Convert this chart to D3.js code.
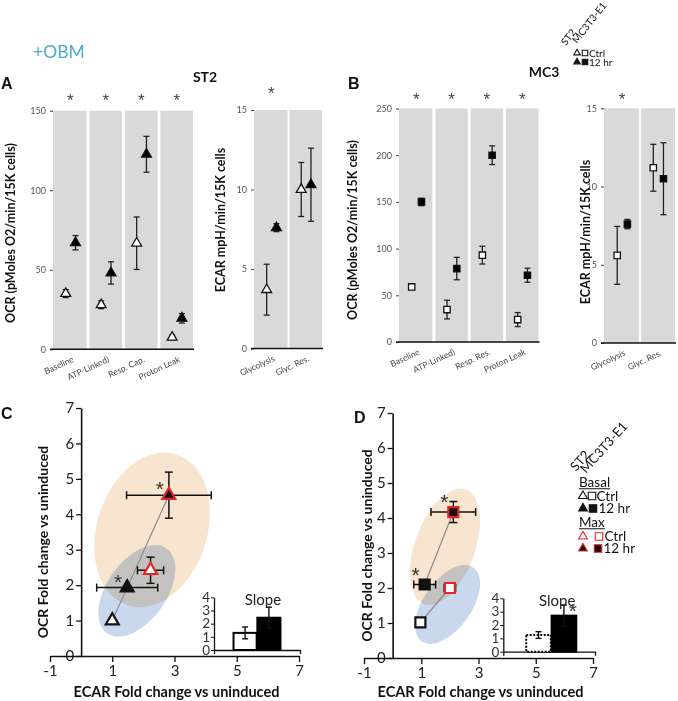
<!DOCTYPE html>
<html><head><meta charset="utf-8">
<script src="https://cdn.jsdelivr.net/npm/d3@7"></script>
<style>body{margin:0;background:#fff}svg{display:block}</style>
</head><body>
<script>
// ---------------- DATA ----------------
const groups = ["Ctrl", "12 hr"];
const ocrCatsST2 = ["Baseline", "ATP-Linked)", "Resp. Cap.", "Proton Leak"];
const ocrCatsMC3 = ["Baseline", "ATP-Linked)", "Resp. Res.", "Proton Leak"];
const ecarCats = ["Glycolysis", "Glyc. Res."];

const st2OcrCtrl = [35, 28, 66.7, 7.5];
const st2OcrCtrlErr = [2.5, 2.5, 16.5, 1.5];
const st2Ocr12h = [67, 48, 122.6, 19.5];
const st2Ocr12hErr = [4.5, 7, 11.3, 3];
const st2OcrSig = [true, true, true, true];

const st2EcarCtrl = [3.7, 10.0];
const st2EcarCtrlErr = [1.6, 1.7];
const st2Ecar12h = [7.6, 10.3];
const st2Ecar12hErr = [0.25, 2.3];
const st2EcarSig = [true, false];

const mc3OcrCtrl = [59, 34.7, 93, 24];
const mc3OcrCtrlErr = [2, 10, 9.5, 7.5];
const mc3Ocr12h = [150, 78.6, 200, 71.5];
const mc3Ocr12hErr = [4, 12, 10, 7.5];
const mc3OcrSig = [true, true, true, true];

const mc3EcarCtrl = [5.6, 11.2];
const mc3EcarCtrlErr = [1.85, 1.5];
const mc3Ecar12h = [7.6, 10.5];
const mc3Ecar12hErr = [0.3, 2.3];
const mc3EcarSig = [true, false];

const ocrTicksST2 = [0, 50, 100, 150];
const ocrTicksMC3 = [0, 50, 100, 150, 200, 250];
const ecarTicks = [0, 5, 10, 15];

// fold-change scatter (Basal Ctrl, Basal 12 hr, Max Ctrl, Max 12 hr)
const foldKinds = ["Basal Ctrl", "Basal 12 hr", "Max Ctrl", "Max 12 hr"];
const st2FoldX = [1, 1.48, 2.23, 2.82];
const st2FoldY = [1, 1.93, 2.42, 4.54];
const st2FoldXErr = [0, 0.98, 0.42, 1.36];
const st2FoldYErr = [0, 0, 0.37, 0.65];
const st2FoldSig = [false, true, false, true];

const mc3FoldX = [0.97, 1.12, 2.0, 2.12];
const mc3FoldY = [1.02, 2.1, 2.0, 4.17];
const mc3FoldXErr = [0, 0.38, 0.2, 0.78];
const mc3FoldYErr = [0, 0.1, 0.08, 0.3];
const mc3FoldSig = [false, true, false, true];

// shaded regions (data units: centre x, centre y, half-width in x units, half-height in y units, tilt deg)
const st2Regions = [
  {name: "Max", cx: 2.28, cy: 3.56, rx: 1.77, ry: 2.24, tilt: 18},
  {name: "Basal", cx: 1.79, cy: 1.84, rx: 0.96, ry: 1.46, tilt: 35}
];
const mc3Regions = [
  {name: "Max", cx: 1.83, cy: 3.18, rx: 1.05, ry: 1.74, tilt: 20},
  {name: "Basal", cx: 1.92, cy: 1.53, rx: 0.84, ry: 1.29, tilt: 35}
];

const foldTicksX = [-1, 1, 3, 5, 7];
const foldTicksY = [0, 1, 2, 3, 4, 5, 6, 7];

const st2Slope = [1.3, 2.45];
const st2SlopeErr = [0.45, 0.8];
const st2SlopeSig = [false, false];
const mc3Slope = [1.25, 2.7];
const mc3SlopeErr = [0.25, 0.8];
const mc3SlopeSig = [false, true];
const slopeTicks = [0, 1, 2, 3, 4];

// ---------------- DRAWING ----------------
const FONT = "Lato, 'Open Sans', sans-serif";
const ARIAL = "'Liberation Sans', Arial, sans-serif";
const RED = "#e0262b";
const BAND = "#d9d9d9";
const fmt = d3.format("d");

const svg = d3.select("body").append("svg").attr("width", 678).attr("height", 701);

function sym(type, size) {
  return d3.symbol().type(type === "tri" ? d3.symbolTriangle : d3.symbolSquare).size(size)();
}

function drawBandPanel(c) {
  const x = d3.scaleBand().domain(c.cats).range(c.xRange).paddingInner(c.padInner);
  const top = c.ticks[c.ticks.length - 1];
  const y = d3.scaleLinear().domain([0, top]).range(c.yRange);
  const sub = d3.scalePoint().domain(groups).range([x.bandwidth() * 0.36, x.bandwidth() * 0.66]);
  const g = svg.append("g");
  g.selectAll("rect.band").data(c.cats).join("rect")
    .attr("x", d => x(d)).attr("width", x.bandwidth())
    .attr("y", y(top)).attr("height", y(0) - y(top)).attr("fill", BAND);
  const ya = g.append("g").attr("transform", `translate(${c.xRange[0] - 1},0)`)
    .call(d3.axisLeft(y).tickValues(c.ticks).tickSize(3).tickPadding(4));
  ya.select(".domain").attr("stroke", "#bbb").attr("stroke-width", 0.6);
  ya.selectAll(".tick line").attr("stroke", "#444");
  ya.selectAll(".tick text").attr("font-family", FONT).attr("font-size", 9).attr("fill", "#555");
  g.append("line").attr("x1", c.xRange[0] - 4).attr("x2", c.xRange[1] + 1)
    .attr("y1", y(0)).attr("y2", y(0)).attr("stroke", "#111").attr("stroke-width", 1.6);
  g.selectAll("text.cat").data(c.cats).join("text")
    .attr("transform", d => `translate(${x(d) + x.bandwidth() / 2 + 4},${y(0) + 12}) rotate(-25)`)
    .attr("text-anchor", "end").attr("font-family", FONT).attr("font-size", 8.5).attr("fill", "#444")
    .text(d => d);
  g.selectAll("text.sig").data(c.cats.filter((d, i) => c.sig[i])).join("text")
    .attr("x", d => x(d) + x.bandwidth() / 2).attr("y", c.sigY + 10)
    .attr("text-anchor", "middle").attr("font-family", ARIAL).attr("font-size", 17).attr("fill", "#444")
    .text("*");
  const series = [
    {grp: "Ctrl", v: c.ctrl, e: c.ctrlErr, fill: "#fff"},
    {grp: "12 hr", v: c.trt, e: c.trtErr, fill: "#000"}
  ];
  series.forEach(s => {
    const pts = c.cats.map((cat, i) => ({cx: x(cat) + sub(s.grp), v: s.v[i], e: s.e[i]}));
    const eb = g.append("g").attr("stroke", "#222").attr("stroke-width", 1.3);
    pts.forEach(p => {
      eb.append("line").attr("x1", p.cx).attr("x2", p.cx).attr("y1", y(p.v - p.e)).attr("y2", y(p.v + p.e));
      [p.v - p.e, p.v + p.e].forEach(v => eb.append("line").attr("x1", p.cx - 3).attr("x2", p.cx + 3).attr("y1", y(v)).attr("y2", y(v)));
    });
    g.selectAll(null).data(pts).join("path")
      .attr("d", sym(c.shape, c.shape === "tri" ? 42 : 40))
      .attr("transform", p => `translate(${p.cx},${y(p.v)})`)
      .attr("fill", s.fill).attr("stroke", "#111").attr("stroke-width", 1.3);
  });
  g.append("text")
    .attr("transform", `translate(${c.titleX},${c.titleY}) rotate(-90)`)
    .attr("text-anchor", "middle").attr("dominant-baseline", "central")
    .attr("font-family", FONT).attr("font-weight", 700).attr("font-size", c.titleSize || 12.5).attr("fill", "#111")
    .text(c.title);
}

// Panel A
drawBandPanel({cats: ocrCatsST2, ctrl: st2OcrCtrl, ctrlErr: st2OcrCtrlErr, trt: st2Ocr12h, trtErr: st2Ocr12hErr,
  sig: st2OcrSig, ticks: ocrTicksST2, xRange: [54, 193], yRange: [349.3, 110.7], padInner: 0.08, shape: "tri",
  sigY: 96, title: "OCR (pMoles O2/min/15K cells)", titleX: 10, titleY: 233});
drawBandPanel({cats: ecarCats, ctrl: st2EcarCtrl, ctrlErr: st2EcarCtrlErr, trt: st2Ecar12h, trtErr: st2Ecar12hErr,
  sig: st2EcarSig, ticks: ecarTicks, xRange: [255, 322], yRange: [348.5, 110], padInner: 0.06, shape: "tri",
  sigY: 89, title: "ECAR mpH/min/15K cells", titleX: 220, titleY: 220});
// Panel B
drawBandPanel({cats: ocrCatsMC3, ctrl: mc3OcrCtrl, ctrlErr: mc3OcrCtrlErr, trt: mc3Ocr12h, trtErr: mc3Ocr12hErr,
  sig: mc3OcrSig, ticks: ocrTicksMC3, xRange: [400, 538.5], yRange: [342, 108.5], padInner: 0.08, shape: "sq",
  sigY: 95, title: "OCR (pMoles O2/min/15K cells)", titleX: 352, titleY: 230});
drawBandPanel({cats: ecarCats, ctrl: mc3EcarCtrl, ctrlErr: mc3EcarCtrlErr, trt: mc3Ecar12h, trtErr: mc3Ecar12hErr,
  sig: mc3EcarSig, ticks: ecarTicks, xRange: [605, 675], yRange: [343, 108.3], padInner: 0.06, shape: "sq",
  sigY: 95, title: "ECAR mpH/min/15K cells", titleX: 585, titleY: 232});

function drawScatter(c) {
  const x = d3.scaleLinear().domain([-1, 7]).range(c.xRange);
  const y = d3.scaleLinear().domain([0, 7]).range(c.yRange);
  const g = svg.append("g");
  const colours = {Max: "#f8e5cf", Basal: "#93b2dc"};
  c.regions.forEach(r => {
    const px = x(r.cx), py = y(r.cy);
    g.append("ellipse").attr("cx", px).attr("cy", py)
      .attr("rx", x(r.rx) - x(0)).attr("ry", y(0) - y(r.ry))
      .attr("transform", `rotate(${r.tilt},${px},${py})`)
      .attr("fill", colours[r.name])
      .attr("fill-opacity", r.name === "Basal" ? 0.5 : 1)
      .style("mix-blend-mode", r.name === "Basal" ? "multiply" : null);
  });
  const line = d3.line().x(d => x(d[0])).y(d => y(d[1]));
  c.links.forEach(lk => {
    const pts = lk.idx.map(i => [c.fx[i], c.fy[i]]);
    g.append("path").attr("d", line.curve(lk.curve ? d3.curveNatural : d3.curveLinear)(pts))
      .attr("fill", "none").attr("stroke", "#8a8a8a").attr("stroke-width", 1.2);
  });
  const ya = g.append("g").attr("transform", `translate(${x(0)},0)`)
    .call(d3.axisLeft(y).tickValues(foldTicksY).tickFormat(fmt).tickSize(5).tickPadding(2).tickSizeOuter(0));
  const xa = g.append("g").attr("transform", `translate(0,${y(0)})`)
    .call(d3.axisBottom(x).tickValues(foldTicksX).tickFormat(d => d < 0 ? "-" + Math.abs(d) : fmt(d)).tickSize(6).tickPadding(3).tickSizeOuter(0));
  [ya, xa].forEach(a => {
    a.select(".domain").attr("stroke", "#111").attr("stroke-width", 1.6);
    a.selectAll(".tick line").attr("stroke", "#111").attr("stroke-width", 1.3);
    a.selectAll(".tick text").attr("font-family", FONT).attr("font-size", 15).attr("fill", "#222");
  });
  g.append("text").attr("transform", `translate(${c.yTitleX},${(c.yRange[0] + c.yRange[1]) / 2 + 10}) rotate(-90)`)
    .attr("text-anchor", "middle").attr("dominant-baseline", "central")
    .attr("font-family", FONT).attr("font-weight", 700).attr("font-size", 14).attr("fill", "#111")
    .text("OCR Fold change vs uninduced");
  g.append("text").attr("x", (c.xRange[0] + c.xRange[1]) / 2 + 2).attr("y", 697)
    .attr("text-anchor", "middle")
    .attr("font-family", FONT).attr("font-weight", 700).attr("font-size", 14.5).attr("fill", "#111")
    .text("ECAR Fold change vs uninduced");
  const eb = g.append("g").attr("stroke", "#111").attr("stroke-width", 1.5);
  c.fx.forEach((fx, i) => {
    const px = x(fx), py = y(c.fy[i]);
    if (c.fxe[i] > 0) {
      eb.append("line").attr("x1", x(fx - c.fxe[i])).attr("x2", x(fx + c.fxe[i])).attr("y1", py).attr("y2", py);
      [fx - c.fxe[i], fx + c.fxe[i]].forEach(v => eb.append("line").attr("x1", x(v)).attr("x2", x(v)).attr("y1", py - 4).attr("y2", py + 4));
    }
    if (c.fye[i] > 0) {
      eb.append("line").attr("x1", px).attr("x2", px).attr("y1", y(c.fy[i] - c.fye[i])).attr("y2", y(c.fy[i] + c.fye[i]));
      [c.fy[i] - c.fye[i], c.fy[i] + c.fye[i]].forEach(v => eb.append("line").attr("x1", px - 4).attr("x2", px + 4).attr("y1", y(v)).attr("y2", y(v)));
    }
  });
  const styles = {
    "Basal Ctrl": {fill: "#fff", stroke: "#111"},
    "Basal 12 hr": {fill: "#111", stroke: "#111"},
    "Max Ctrl": {fill: "#fff", stroke: RED},
    "Max 12 hr": {fill: "#111", stroke: RED}
  };
  g.selectAll(null).data(foldKinds).join("path")
    .attr("d", sym(c.shape, c.shape === "tri" ? 72 : 100))
    .attr("transform", (k, i) => `translate(${x(c.fx[i])},${y(c.fy[i])})`)
    .attr("fill", k => styles[k].fill).attr("stroke", k => styles[k].stroke).attr("stroke-width", 2.2);
  g.selectAll(null).data(foldKinds.filter((k, i) => c.sig[i])).join("text")
    .attr("x", k => x(c.fx[foldKinds.indexOf(k)]) - 9)
    .attr("y", k => y(c.fy[foldKinds.indexOf(k)]) + c.sigDy)
    .attr("text-anchor", "middle").attr("font-family", ARIAL).attr("font-size", 21).attr("fill", "#333")
    .text("*");
  // inset slope chart
  const ix = d3.scaleBand().domain(groups).range(c.inset.xRange).paddingInner(0.03).paddingOuter(0.82).align(c.inset.align);
  const iy = d3.scaleLinear().domain([0, 4]).range(c.inset.yRange);
  const ig = g.append("g");
  const iya = ig.append("g").attr("transform", `translate(${c.inset.xRange[0]},0)`)
    .call(d3.axisLeft(iy).tickValues(slopeTicks).tickFormat(fmt).tickSize(3).tickPadding(1).tickSizeOuter(0));
  const ixa = ig.append("g").attr("transform", `translate(0,${iy(0)})`)
    .call(d3.axisBottom(ix).tickValues([]).tickSizeOuter(4));
  [iya, ixa].forEach(a => {
    a.select(".domain").attr("stroke", "#111").attr("stroke-width", 1.3);
    a.selectAll(".tick line").attr("stroke", "#111");
    a.selectAll(".tick text").attr("font-family", FONT).attr("font-size", 13.5).attr("fill", "#333");
  });
  ig.selectAll("rect").data(groups).join("rect")
    .attr("x", d => ix(d)).attr("width", ix.bandwidth())
    .attr("y", (d, i) => iy(c.inset.v[i])).attr("height", (d, i) => iy(0) - iy(c.inset.v[i]))
    .attr("fill", (d, i) => i === 0 ? "#fff" : "#000")
    .attr("stroke", "#000").attr("stroke-width", 2)
    .attr("stroke-dasharray", (d, i) => (i === 0 && c.inset.dashed) ? "2,1.5" : null);
  const ieb = ig.append("g").attr("stroke", "#111").attr("stroke-width", 1.4);
  groups.forEach((d, i) => {
    const cx = ix(d) + ix.bandwidth() / 2, v = c.inset.v[i], e = c.inset.e[i];
    ieb.append("line").attr("x1", cx).attr("x2", cx).attr("y1", iy(v - e)).attr("y2", iy(v + e));
    [v - e, v + e].forEach(w => ieb.append("line").attr("x1", cx - 3).attr("x2", cx + 3).attr("y1", iy(w)).attr("y2", iy(w)));
  });
  ig.append("text").attr("x", (ix("Ctrl") + ix("12 hr") + ix.bandwidth()) / 2 + 6).attr("y", iy(4) + 8)
    .attr("text-anchor", "middle").attr("font-family", FONT).attr("font-size", 15).attr("fill", "#222").text("Slope");
  groups.forEach((d, i) => {
    if (c.inset.sig[i]) ig.append("text")
      .attr("x", ix(d) + ix.bandwidth() / 2 + 9).attr("y", iy(c.inset.v[i] + c.inset.e[i]) + 13)
      .attr("text-anchor", "middle").attr("font-family", ARIAL).attr("font-size", 21).attr("fill", "#333").text("*");
  });
}

drawScatter({xRange: [50, 299], yRange: [656, 408], regions: st2Regions, shape: "tri",
  fx: st2FoldX, fy: st2FoldY, fxe: st2FoldXErr, fye: st2FoldYErr, sig: st2FoldSig, sigDy: 1,
  links: [{idx: [0, 1, 3], curve: true}], yTitleX: 42,
  inset: {xRange: [214, 300], yRange: [650, 597.3], v: st2Slope, e: st2SlopeErr, sig: st2SlopeSig, dashed: false, align: 0.5}});
drawScatter({xRange: [364, 593], yRange: [658, 413], regions: mc3Regions, shape: "sq",
  fx: mc3FoldX, fy: mc3FoldY, fxe: mc3FoldXErr, fye: mc3FoldYErr, sig: mc3FoldSig, sigDy: -3,
  links: [{idx: [0, 2], curve: false}, {idx: [1, 3], curve: false}], yTitleX: 366,
  inset: {xRange: [503.3, 595], yRange: [651.7, 598.3], v: mc3Slope, e: mc3SlopeErr, sig: mc3SlopeSig, dashed: true, align: 0.55}});

// ---------------- TEXT & LEGENDS ----------------
function label(txt, x, y, size, weight, family, fill, anchor) {
  return svg.append("text").attr("x", x).attr("y", y).attr("font-size", size).attr("font-weight", weight || 400)
    .attr("font-family", family || FONT).attr("fill", fill || "#111").attr("text-anchor", anchor || "start").text(txt);
}
label("+OBM", 33, 58, 17.5, 400, FONT, "#4bacc6");
label("A", 1, 89, 16, 700, ARIAL);
label("B", 348, 89, 16, 700, ARIAL);
label("C", 1, 419, 16, 700, ARIAL);
label("D", 354, 423, 16, 700, ARIAL);
label("ST2", 205, 82, 14, 700, FONT, "#111", "middle");
label("MC3", 544, 77, 14, 700, FONT, "#111", "middle");

function legend(c) {
  const g = svg.append("g");
  g.append("text").attr("transform", `translate(${c.stx},${c.sty}) rotate(${c.rot})`)
    .attr("font-family", FONT).attr("font-size", c.hs).attr("fill", "#111").text("ST2");
  g.append("text").attr("transform", `translate(${c.mcx},${c.mcy}) rotate(${c.rot})`)
    .attr("font-family", FONT).attr("font-size", c.hs).attr("fill", "#111").text("MC3T3-E1");
  c.rows.forEach(r => {
    if (r.head) {
      const t = g.append("text").attr("x", r.x).attr("y", r.y + c.fs * 0.35).attr("font-family", FONT)
        .attr("font-size", c.fs).attr("fill", "#111").text(r.head);
      const w = t.node().getComputedTextLength();
      g.append("line").attr("x1", r.x).attr("x2", r.x + w).attr("y1", r.y + c.fs * 0.5).attr("y2", r.y + c.fs * 0.5)
        .attr("stroke", "#111").attr("stroke-width", 1);
      return;
    }
    g.append("path").attr("d", sym("tri", c.ms * 0.6)).attr("transform", `translate(${r.tx},${r.y})`)
      .attr("fill", r.fill).attr("stroke", r.stroke).attr("stroke-width", 1.1);
    g.append("path").attr("d", sym("sq", c.ms)).attr("transform", `translate(${r.sx},${r.y})`)
      .attr("fill", r.fill).attr("stroke", r.stroke).attr("stroke-width", 1.1);
    g.append("text").attr("x", r.lx).attr("y", r.y + c.fs * 0.36).attr("font-family", FONT)
      .attr("font-size", c.fs).attr("fill", "#111").text(r.label);
  });
}
legend({stx: 566, sty: 46, mcx: 577, mcy: 44, rot: -52, hs: 10, fs: 10, ms: 30,
  rows: [
    {tx: 577, sx: 585, lx: 589, y: 53, fill: "#fff", stroke: "#111", label: groups[0]},
    {tx: 577, sx: 585, lx: 589, y: 62, fill: "#111", stroke: "#111", label: groups[1]}
  ]});
legend({stx: 576, sty: 472, mcx: 586, mcy: 474, rot: -48, hs: 13, fs: 13.5, ms: 56,
  rows: [
    {head: "Basal", x: 579, y: 482},
    {tx: 583, sx: 592, lx: 596.5, y: 496, fill: "#fff", stroke: "#111", label: groups[0]},
    {tx: 583, sx: 593, lx: 598.5, y: 508.5, fill: "#111", stroke: "#111", label: groups[1]},
    {head: "Max", x: 579, y: 522},
    {tx: 583, sx: 599, lx: 604.5, y: 536.5, fill: "#fff", stroke: RED, label: groups[0]},
    {tx: 583, sx: 598, lx: 603.5, y: 548.5, fill: "#111", stroke: RED, label: groups[1]}
  ]});
</script>
</body></html>
